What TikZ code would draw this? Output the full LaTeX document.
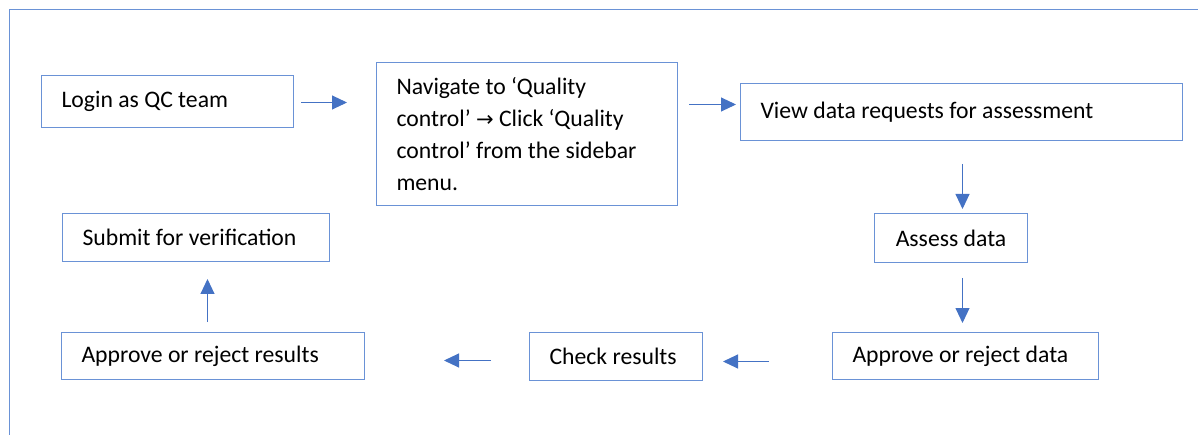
\documentclass[tikz,border=0pt]{standalone}
\usepackage{fontspec}
\setmainfont{Carlito}
\newfontfamily\symf{DejaVu Sans}
\usetikzlibrary{arrows.meta}
\definecolor{boxblue}{HTML}{6A92D6}
\definecolor{arrblue}{HTML}{4472C4}
\newcommand{\boxfont}{\fontsize{23.7pt}{32pt}\selectfont}
\tikzset{
  box/.style={draw=boxblue, line width=1pt, anchor=north west, inner xsep=20pt,
    inner ysep=0pt, align=flush left, font=\boxfont, text=black},
  arr/.style={draw=arrblue, line width=1pt, -{Triangle[length=15pt,width=14pt]}, arrblue}
}
\begin{document}
\begin{tikzpicture}[x=1pt,y=-1pt]
\useasboundingbox (0,0) rectangle (1198,435);
% outer frame (partly cropped)
\draw[boxblue, line width=1pt] (9,435) -- (9,10) -- (1198,10);
% boxes
\node[box, text width=212pt, minimum width=252pt, minimum height=52pt] (login) at (41,75) {Login as QC team};
\node[box, text width=261pt, minimum width=301pt, minimum height=143pt] (nav) at (376,62)
  {Navigate to ‘Quality\\ control’ {\symf\fontsize{21pt}{32pt}\selectfont →} Click ‘Quality\\ control’ from the sidebar\\ menu.};
\node[box, text width=402pt, minimum width=442pt, minimum height=57pt] (view) at (740,83) {View data requests for assessment};
\node[box, minimum width=153pt, minimum height=49pt] (assess) at (874,213) {Assess data};
\node[box, text width=226pt, minimum width=266pt, minimum height=47pt] (appdata) at (832,332) {Approve or reject data};
\node[box, text width=133pt, minimum width=173pt, minimum height=48pt] (check) at (529,332) {Check results};
\node[box, text width=263pt, minimum width=303pt, minimum height=47pt] (appres) at (61,332) {Approve or reject results};
\node[box, text width=227pt, minimum width=267pt, minimum height=48pt] (submit) at (62,213) {Submit for verification};
% connectors
\draw[arr] ([xshift=7pt,yshift=-1pt]login.east) -- ++(46pt,0pt);
\draw[arr] ([xshift=11pt,yshift=29.5pt]nav.east) -- ++(47pt,0pt);
\draw[arr] ([xshift=1pt,yshift=-23pt]view.south) -- ++(0pt,-45pt);
\draw[arr] ([xshift=11.5pt,yshift=-15pt]assess.south) -- ++(0pt,-45pt);
\draw[arr] ([xshift=-63pt,yshift=-5.5pt]appdata.west) -- ++(-46pt,0pt);
\draw[arr] ([xshift=-38pt,yshift=-4pt]check.west) -- ++(-47pt,0pt);
\draw[arr] ([xshift=-5.5pt,yshift=10pt]appres.north) -- ++(0pt,43pt);
\end{tikzpicture}
\end{document}
